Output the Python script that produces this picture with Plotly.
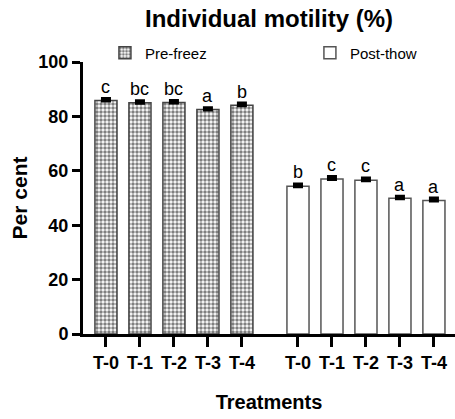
import plotly.graph_objects as go

categories = ["T-0", "T-1", "T-2", "T-3", "T-4"]
pre_freez = [85.8, 85.0, 85.1, 82.5, 84.1]
post_thow = [54.3, 57.0, 56.5, 49.9, 49.1]
pre_err = [0.6, 0.6, 0.6, 0.5, 0.6]
post_err = [0.7, 0.7, 0.7, 0.6, 0.7]
pre_letters = ["c", "bc", "bc", "a", "b"]
post_letters = ["b", "c", "c", "a", "a"]

n = len(categories)
gap = 1.65
x_pre = list(range(n))
x_post = [i + n - 1 + gap for i in range(n)]

FONT = "Liberation Sans, Arial, sans-serif"

fig = go.Figure()
fig.add_trace(go.Bar(
    x=x_pre, y=pre_freez, name="Pre-freez", width=0.65, legend="legend",
    marker=dict(color="white", line=dict(color="#444", width=1.5),
                pattern=dict(shape=".", size=4, solidity=0.6, fgcolor="black", bgcolor="white")),
    error_y=dict(type="data", array=pre_err, arrayminus=[0]*n, symmetric=False,
                 color="black", thickness=4, width=5),
))
fig.add_trace(go.Bar(
    x=x_post, y=post_thow, name="Post-thow", width=0.65, legend="legend2",
    marker=dict(color="white", line=dict(color="#555", width=1.5)),
    error_y=dict(type="data", array=post_err, arrayminus=[0]*n, symmetric=False,
                 color="black", thickness=4, width=5),
))

for xs, ys, es, ls in [(x_pre, pre_freez, pre_err, pre_letters), (x_post, post_thow, post_err, post_letters)]:
    for xv, yv, ev, lv in zip(xs, ys, es, ls):
        fig.add_annotation(x=xv, y=yv + ev, text=lv, showarrow=False, yanchor="bottom",
                           yshift=0, font=dict(family=FONT, size=18, color="black"))

legend_common = dict(orientation="h", xanchor="left", y=1.033, yanchor="middle",
                     font=dict(size=15, color="black"), bgcolor="rgba(0,0,0,0)")
fig.update_layout(
    width=455, height=419,
    margin=dict(l=83, r=0, t=62, b=85),
    paper_bgcolor="white", plot_bgcolor="white",
    font=dict(family=FONT, color="black"),
    title=dict(text="<b>Individual motility (%)</b>", x=0.5, xref="paper", xanchor="center",
               y=0.955, yanchor="middle", font=dict(size=24, color="black")),
    showlegend=True,
    legend=dict(x=0.059, **legend_common),
    legend2=dict(x=0.61, **legend_common),
    barmode="overlay",
)
fig.update_xaxes(
    range=[-0.676, x_post[-1] + 0.62],
    tickvals=x_pre + x_post, ticktext=["<b>%s</b>" % t for t in categories + categories],
    showline=True, linecolor="black", linewidth=3,
    ticks="outside", ticklen=10, tickwidth=3, tickcolor="black",
    tickfont=dict(size=18, family=FONT, color="black"),
    title=dict(text="<b>Treatments</b>", font=dict(size=20), standoff=24),
    showgrid=False, zeroline=False, automargin=False,
)
fig.update_yaxes(
    range=[0, 100], tickvals=[0, 20, 40, 60, 80, 100],
    ticktext=["<b>0</b>", "<b>20</b>", "<b>40</b>", "<b>60</b>", "<b>80</b>", "<b>100</b>"],
    showline=True, linecolor="black", linewidth=3,
    ticks="outside", ticklen=8, tickwidth=3, tickcolor="black",
    tickfont=dict(size=18, family=FONT, color="black"),
    title=dict(text="<b>Per cent</b>", font=dict(size=21), standoff=6),
    showgrid=False, zeroline=False, automargin=False,
)

fig.write_html("out.html", config={"displayModeBar": False},
               post_script="document.body.style.margin='0';")
